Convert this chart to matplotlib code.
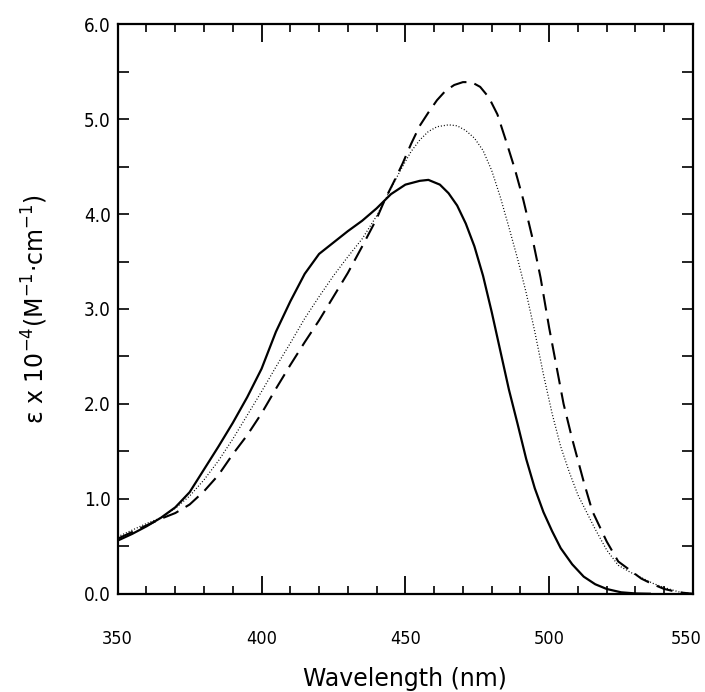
import numpy as np
import matplotlib
matplotlib.use("Agg")
import matplotlib.pyplot as plt
from matplotlib.ticker import MultipleLocator, FormatStrFormatter
from matplotlib.transforms import ScaledTranslation

# solid curve
wl_a = [350, 355, 360, 365, 370, 375, 380, 385, 390, 395, 400, 405, 410, 415,
        420, 425, 430, 435, 440, 445, 450, 455, 458, 462, 465, 468, 471, 474,
        477, 480, 483, 486, 489, 492, 495, 498, 501, 504, 508, 512, 516, 520,
        525, 530, 535]
eps_a = [0.56, 0.63, 0.71, 0.80, 0.91, 1.07, 1.31, 1.55, 1.80, 2.07, 2.37, 2.76,
         3.08, 3.37, 3.58, 3.70, 3.82, 3.93, 4.06, 4.21, 4.31, 4.35, 4.36, 4.31,
         4.22, 4.09, 3.90, 3.66, 3.35, 2.97, 2.56, 2.15, 1.79, 1.42, 1.11, 0.86,
         0.66, 0.48, 0.31, 0.18, 0.10, 0.05, 0.015, 0.003, 0.0]

# dotted curve
wl_b = [350, 355, 360, 365, 370, 375, 380, 385, 390, 395, 400, 405, 410, 415,
        420, 425, 430, 435, 440, 443, 446, 449, 452, 455, 458, 461, 465, 468,
        471, 474, 477, 480, 483, 486, 489, 492, 495, 498, 501, 504, 507, 510,
        513, 516, 520, 524, 528, 532, 536, 540, 545, 550]
eps_b = [0.60, 0.67, 0.74, 0.80, 0.90, 1.03, 1.20, 1.40, 1.63, 1.88, 2.13, 2.39,
         2.64, 2.90, 3.13, 3.35, 3.55, 3.74, 3.98, 4.15, 4.33, 4.50, 4.66, 4.78,
         4.87, 4.92, 4.94, 4.93, 4.88, 4.80, 4.67, 4.46, 4.18, 3.86, 3.53, 3.17,
         2.76, 2.31, 1.90, 1.55, 1.28, 1.04, 0.86, 0.68, 0.46, 0.30, 0.23, 0.17,
         0.11, 0.065, 0.02, 0.0]

# dashed curve
wl_c = [350, 355, 360, 365, 370, 375, 380, 385, 390, 395, 400, 405, 410, 415,
        420, 425, 430, 435, 440, 443, 446, 449, 452, 455, 458, 461, 464, 467,
        470, 473, 476, 479, 482, 485, 488, 491, 494, 497, 500, 503, 505, 508,
        512, 515, 520, 524, 528, 532, 536, 540, 545, 550]
eps_c = [0.58, 0.65, 0.72, 0.79, 0.85, 0.94, 1.08, 1.25, 1.47, 1.67, 1.90, 2.16,
         2.41, 2.65, 2.88, 3.13, 3.38, 3.66, 3.95, 4.16, 4.34, 4.53, 4.74, 4.93,
         5.07, 5.20, 5.30, 5.36, 5.39, 5.39, 5.34, 5.23, 5.05, 4.77, 4.48, 4.15,
         3.77, 3.33, 2.80, 2.32, 2.00, 1.63, 1.18, 0.87, 0.55, 0.34, 0.25, 0.16,
         0.10, 0.05, 0.015, 0.0]

fig = plt.figure(figsize=(7.05, 6.92), dpi=100)
ax = fig.add_axes([0.167, 0.142, 0.816, 0.823])

ax.plot(wl_a, eps_a, color="black", lw=1.6, ls="-")
ax.plot(wl_b, eps_b, color="black", lw=0.9, ls=(0, (0.8, 1.6)))
ax.plot(wl_c, eps_c, color="black", lw=1.5, ls=(0, (8, 4)))

ax.set_xlim(350, 550)
ax.set_ylim(0, 6.0)
ax.set_xticks([350, 400, 450, 500, 550])
ax.xaxis.set_minor_locator(MultipleLocator(10))
ax.yaxis.set_major_locator(MultipleLocator(1.0))
ax.yaxis.set_minor_locator(MultipleLocator(0.5))
ax.yaxis.set_major_formatter(FormatStrFormatter("%.1f"))

for s in ax.spines.values():
    s.set_linewidth(1.6)

ax.tick_params(axis="x", which="major", direction="in", length=13, width=1.3,
               top=True, pad=26, labelsize=13)
ax.tick_params(axis="x", which="minor", direction="in", length=6, width=1.2,
               top=True)
ax.tick_params(axis="y", which="both", direction="in", length=8, width=1.2,
               right=True, pad=5, labelsize=13.5)
for lab in ax.get_xticklabels() + ax.get_yticklabels():
    lab.set_family("DejaVu Sans")
    lab.set_stretch("condensed")

# keep the 550 label inside the figure
last = ax.xaxis.get_major_ticks()[4].label1
last.set_transform(last.get_transform() +
                   ScaledTranslation(-5 / 72, 0, fig.dpi_scale_trans))

ax.set_xlabel("Wavelength (nm)", fontsize=17, family="DejaVu Sans")
ax.set_ylabel("\u03b5 x 10$^{-4}$(M$^{-1}$\u00b7cm$^{-1}$)", fontsize=17,
              family="DejaVu Sans")
ax.xaxis.set_label_coords(0.5, -0.128)
ax.yaxis.set_label_coords(-0.118, 0.5)

fig.savefig("out.png", dpi=100)
